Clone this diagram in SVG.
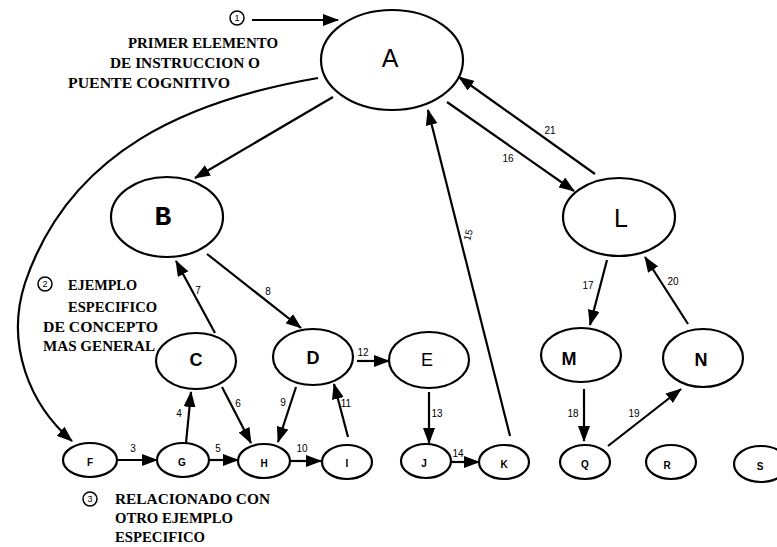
<svg xmlns="http://www.w3.org/2000/svg" width="777" height="547" viewBox="0 0 777 547">
  <style>
    .node ellipse { fill: #fff; stroke: #000; stroke-width: 2.2; }
    .big { font-family: "Liberation Sans", Arial, sans-serif; font-size: 25px; text-anchor: middle; dominant-baseline: central; }
    .mid { font-family: "Liberation Sans", Arial, sans-serif; font-size: 18px; font-weight: bold; text-anchor: middle; dominant-baseline: central; }
    .small { font-family: "Liberation Sans", Arial, sans-serif; font-size: 10px; font-weight: bold; text-anchor: middle; dominant-baseline: central; }
    .edge { fill: none; stroke: #000; stroke-width: 2.2; marker-end: url(#arrow); }
    .elabel { font-family: "Liberation Sans", Arial, sans-serif; font-size: 10px; text-anchor: middle; dominant-baseline: central; }
    .note { font-family: "Liberation Serif", "Times New Roman", serif; font-size: 14px; font-weight: bold; dominant-baseline: central; }
    .circnum { fill: #fff; stroke: #000; stroke-width: 1.5; }
    .cnum { font-family: "Liberation Sans", Arial, sans-serif; font-size: 9px; text-anchor: middle; dominant-baseline: central; }
  </style>
  <defs>
    <marker id="arrow" viewBox="0 0 16 12" refX="15" refY="6" markerWidth="16" markerHeight="12" markerUnits="userSpaceOnUse" orient="auto">
      <path d="M0,0 L16,6 L0,12 z" fill="#000"/>
    </marker>
  </defs>

  <rect width="777" height="547" fill="#fff"/>

  <!-- connectors -->
  <g id="connectors">
    <line class="edge" x1="252" y1="20" x2="338" y2="20"/>
    <line class="edge" x1="333" y1="97" x2="195" y2="178"/>
    <path class="edge" d="M318,78 C190,100 70,150 25,283 C5,345 30,405 72,441"/>
    <line class="edge" x1="207" y1="254" x2="301" y2="328"/>
    <line class="edge" x1="215" y1="333" x2="176" y2="261"/>
    <line class="edge" x1="186" y1="443" x2="191" y2="392"/>
    <line class="edge" x1="222" y1="387" x2="251" y2="443"/>
    <line class="edge" x1="296" y1="387" x2="278" y2="442"/>
    <line class="edge" x1="348" y1="437" x2="334" y2="384"/>
    <line class="edge" x1="357" y1="361" x2="389" y2="361"/>
    <line class="edge" x1="429" y1="392" x2="429" y2="443"/>
    <line class="edge" x1="451" y1="462" x2="479" y2="462"/>
    <line class="edge" x1="510" y1="436" x2="428" y2="110"/>
    <line class="edge" x1="447" y1="102" x2="574" y2="191"/>
    <line class="edge" x1="595" y1="174" x2="459" y2="77"/>
    <line class="edge" x1="607" y1="260" x2="590" y2="325"/>
    <line class="edge" x1="688" y1="324" x2="645" y2="257"/>
    <line class="edge" x1="584" y1="389" x2="584" y2="441"/>
    <line class="edge" x1="608" y1="446" x2="681" y2="389"/>
    <line class="edge" x1="118" y1="460" x2="157" y2="460"/>
    <line class="edge" x1="209" y1="460" x2="238" y2="460"/>
    <line class="edge" x1="291" y1="461" x2="321" y2="461"/>

    <!-- step numbers -->
    <text class="elabel" x="133" y="448">3</text>
    <text class="elabel" x="218" y="448">5</text>
    <text class="elabel" x="302" y="448">10</text>
    <text class="elabel" x="179" y="413">4</text>
    <text class="elabel" x="238" y="403">6</text>
    <text class="elabel" x="198" y="290">7</text>
    <text class="elabel" x="268" y="291">8</text>
    <text class="elabel" x="283" y="402">9</text>
    <text class="elabel" x="346" y="403">11</text>
    <text class="elabel" x="363" y="352">12</text>
    <text class="elabel" x="437" y="413">13</text>
    <text class="elabel" x="458" y="453">14</text>
    <text class="elabel" x="468" y="235" transform="rotate(-76 468 235)">15</text>
    <text class="elabel" x="508" y="158">16</text>
    <text class="elabel" x="588" y="285">17</text>
    <text class="elabel" x="573" y="413">18</text>
    <text class="elabel" x="634" y="413">19</text>
    <text class="elabel" x="673" y="281">20</text>
    <text class="elabel" x="550" y="130">21</text>
  </g>

  <!-- nodes -->
  <g id="node-A" class="node"><ellipse cx="392" cy="60" rx="71" ry="50"/><text class="big" x="390" y="58">A</text></g>
  <g id="node-B" class="node"><ellipse cx="167" cy="217" rx="56" ry="40"/><text class="big" x="163" y="217" style="font-family:'Liberation Mono',monospace;font-weight:bold;font-size:28px">B</text></g>
  <g id="node-L" class="node"><ellipse cx="619" cy="217" rx="56" ry="39"/><text class="big" x="621" y="218">L</text></g>
  <g id="node-C" class="node"><ellipse cx="196" cy="361" rx="40" ry="28"/><text class="mid" x="196" y="360">C</text></g>
  <g id="node-D" class="node"><ellipse cx="313" cy="357" rx="40" ry="28"/><text class="mid" x="313" y="358">D</text></g>
  <g id="node-E" class="node"><ellipse cx="429" cy="360" rx="40" ry="28"/><text class="mid" x="427" y="360" style="font-weight:normal">E</text></g>
  <g id="node-M" class="node"><ellipse cx="581" cy="355" rx="40" ry="27"/><text class="mid" x="569" y="359">M</text></g>
  <g id="node-N" class="node"><ellipse cx="703" cy="358" rx="40" ry="29"/><text class="mid" x="701" y="360">N</text></g>
  <g id="node-F" class="node"><ellipse cx="90" cy="460" rx="27" ry="17"/><text class="small" x="90" y="462">F</text></g>
  <g id="node-G" class="node"><ellipse cx="183" cy="460" rx="26" ry="17"/><text class="small" x="182" y="462">G</text></g>
  <g id="node-H" class="node"><ellipse cx="264" cy="461" rx="26" ry="17"/><text class="small" x="264" y="463">H</text></g>
  <g id="node-I" class="node"><ellipse cx="347" cy="462" rx="25" ry="17"/><text class="small" x="347" y="463">I</text></g>
  <g id="node-J" class="node"><ellipse cx="426" cy="461" rx="25" ry="17"/><text class="small" x="424" y="463">J</text></g>
  <g id="node-K" class="node"><ellipse cx="504" cy="462" rx="25" ry="17"/><text class="small" x="504" y="464">K</text></g>
  <g id="node-Q" class="node"><ellipse cx="585" cy="462" rx="25" ry="17"/><text class="small" x="585" y="464">Q</text></g>
  <g id="node-R" class="node"><ellipse cx="671" cy="462" rx="25" ry="17"/><text class="small" x="667" y="465">R</text></g>
  <g id="node-S" class="node"><ellipse cx="761" cy="464" rx="27" ry="18"/><text class="small" x="760" y="466">S</text></g>

  <!-- annotations -->
  <g id="note-1">
    <circle class="circnum" cx="237" cy="18" r="7"/>
    <text class="cnum" x="237" y="18">1</text>
    <text class="note" x="128" y="43" textLength="150" lengthAdjust="spacingAndGlyphs">PRIMER ELEMENTO</text>
    <text class="note" x="110" y="63" textLength="150" lengthAdjust="spacingAndGlyphs">DE INSTRUCCION O</text>
    <text class="note" x="68" y="83" textLength="162" lengthAdjust="spacingAndGlyphs">PUENTE COGNITIVO</text>
  </g>
  <g id="note-2">
    <circle class="circnum" cx="45" cy="284" r="7"/>
    <text class="cnum" x="45" y="284">2</text>
    <text class="note" x="68" y="285" textLength="69" lengthAdjust="spacingAndGlyphs">EJEMPLO</text>
    <text class="note" x="68" y="307" textLength="89" lengthAdjust="spacingAndGlyphs">ESPECIFICO</text>
    <text class="note" x="43" y="327" textLength="115" lengthAdjust="spacingAndGlyphs">DE CONCEPTO</text>
    <text class="note" x="43" y="346" textLength="112" lengthAdjust="spacingAndGlyphs">MAS GENERAL</text>
  </g>
  <g id="note-3">
    <circle class="circnum" cx="90" cy="499" r="7"/>
    <text class="cnum" x="90" y="499">3</text>
    <text class="note" x="115" y="499" textLength="155" lengthAdjust="spacingAndGlyphs">RELACIONADO CON</text>
    <text class="note" x="115" y="518" textLength="118" lengthAdjust="spacingAndGlyphs">OTRO EJEMPLO</text>
    <text class="note" x="115" y="537" textLength="90" lengthAdjust="spacingAndGlyphs">ESPECIFICO</text>
  </g>
</svg>
